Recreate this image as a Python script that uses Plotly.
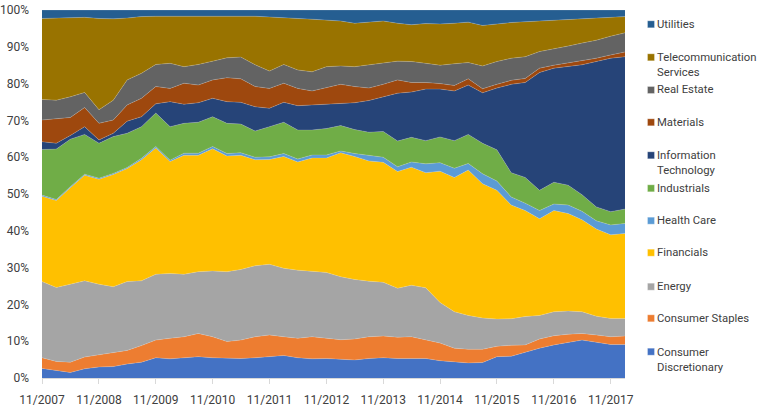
import plotly.graph_objects as go

dates = ["2007-11-01", "2008-02-01", "2008-05-01", "2008-08-01", "2008-11-01", "2009-02-01",
         "2009-05-01", "2009-08-01", "2009-11-01", "2010-02-01", "2010-05-01", "2010-08-01",
         "2010-11-01", "2011-02-01", "2011-05-01", "2011-08-01", "2011-11-01", "2012-02-01",
         "2012-05-01", "2012-08-01", "2012-11-01", "2013-02-01", "2013-05-01", "2013-08-01",
         "2013-11-01", "2014-02-01", "2014-05-01", "2014-08-01", "2014-11-01", "2015-02-01",
         "2015-05-01", "2015-08-01", "2015-11-01", "2016-02-01", "2016-05-01", "2016-08-01",
         "2016-11-01", "2017-02-01", "2017-05-01", "2017-08-01", "2017-11-01", "2018-02-01"]

consumer_disc = [2.6, 2.0, 1.5, 2.5, 3.0, 3.1, 3.8, 4.3, 5.5, 5.2, 5.5, 5.8, 5.5, 5.3, 5.3, 5.5, 5.8, 6.1, 5.5, 5.2, 5.3,
                 5.0, 4.9, 5.3, 5.5, 5.3, 5.3, 5.3, 4.7, 4.3, 4.1, 4.2, 5.8, 5.9, 7.0, 8.1, 9.0, 9.6, 10.3, 9.7, 9.1, 9.1]
consumer_staples = [2.9, 2.5, 2.8, 3.2, 3.3, 3.9, 3.7, 4.5, 4.8, 5.6, 5.7, 6.3, 5.7, 4.6, 5.0, 5.7, 5.9, 5.1, 5.3, 6.0, 5.5,
                    5.4, 5.7, 5.9, 5.9, 5.8, 5.9, 5.1, 4.8, 3.8, 3.7, 3.6, 2.8, 3.0, 2.0, 2.5, 2.5, 2.3, 1.8, 2.0, 2.1, 2.3]
energy = [20.7, 20.1, 21.2, 20.7, 19.2, 17.8, 18.7, 17.6, 17.9, 17.6, 17.0, 16.8, 17.9, 19.0, 19.2, 19.3, 19.2, 18.6, 18.5, 17.7, 17.9,
          17.1, 16.2, 15.1, 14.6, 13.3, 14.0, 14.1, 11.0, 9.9, 9.2, 8.5, 7.4, 7.2, 7.7, 6.4, 6.5, 6.3, 5.9, 5.1, 5.0, 4.8]
financials = [23.2, 23.6, 26.2, 28.7, 28.5, 30.5, 30.7, 32.9, 34.3, 30.4, 32.3, 31.6, 33.2, 31.4, 31.0, 28.8, 28.5, 30.4, 29.4, 30.9, 31.1,
              33.7, 33.4, 32.7, 32.6, 31.7, 32.1, 31.3, 35.7, 36.5, 39.5, 36.5, 35.0, 30.9, 28.8, 26.3, 27.5, 26.5, 25.0, 23.7, 22.7, 23.1]
health_care = [0.3, 0.3, 0.3, 0.3, 0.3, 0.3, 0.3, 0.4, 0.4, 0.4, 0.6, 0.6, 0.6, 0.7, 0.7, 0.7, 0.7, 0.8, 0.8, 0.8, 0.8,
               0.5, 0.8, 1.4, 1.4, 1.3, 1.4, 2.4, 2.3, 2.5, 1.8, 2.7, 2.5, 2.2, 2.0, 2.2, 1.8, 2.3, 2.3, 2.2, 2.7, 2.7]
industrials = [12.4, 13.7, 12.9, 10.8, 9.5, 10.0, 9.3, 8.6, 9.1, 9.1, 8.1, 8.4, 8.1, 8.2, 7.8, 7.1, 8.2, 8.5, 7.9, 6.8, 7.2,
               6.9, 6.5, 6.4, 7.0, 7.0, 6.7, 6.3, 7.0, 7.5, 7.9, 8.3, 8.5, 6.6, 7.0, 5.5, 5.9, 5.4, 4.5, 3.8, 3.6, 3.9]
info_tech = [2.1, 1.6, 1.0, 2.1, 0.9, 0.9, 3.3, 2.7, 2.5, 6.8, 5.2, 5.3, 5.0, 5.9, 5.9, 6.6, 5.0, 5.4, 6.6, 6.8, 6.8,
             6.0, 7.3, 8.6, 9.3, 13.0, 12.3, 14.0, 13.0, 13.5, 13.4, 13.7, 16.8, 24.0, 25.8, 32.0, 31.0, 32.3, 35.3, 39.5, 41.7, 41.4]
materials = [5.9, 6.6, 4.9, 5.2, 4.5, 3.6, 4.4, 5.0, 4.7, 3.6, 5.7, 4.8, 5.0, 6.5, 6.4, 5.5, 5.4, 5.2, 4.7, 3.8, 4.3,
             5.2, 4.4, 3.4, 3.5, 3.6, 2.6, 1.8, 1.5, 1.5, 1.7, 1.1, 1.0, 1.1, 1.1, 1.2, 0.8, 0.9, 1.0, 0.9, 0.9, 1.3]
real_estate = [5.6, 5.1, 5.6, 4.1, 3.7, 5.4, 6.8, 6.8, 6.0, 6.8, 4.5, 5.6, 5.1, 5.4, 5.9, 5.9, 4.7, 5.1, 5.0, 5.2, 5.7,
               5.0, 5.4, 6.2, 5.8, 5.1, 5.7, 5.2, 5.0, 5.9, 4.4, 6.2, 6.2, 6.0, 5.9, 4.5, 4.4, 4.6, 4.9, 4.9, 5.1, 5.2]
telecom = [22.0, 22.3, 21.5, 20.4, 24.8, 22.1, 16.8, 15.4, 13.1, 12.8, 13.7, 13.1, 12.2, 11.4, 11.2, 13.2, 14.7, 12.8, 14.0, 14.3, 12.7,
           12.2, 11.8, 11.7, 11.4, 10.3, 10.0, 10.8, 11.2, 11.0, 11.0, 11.0, 10.3, 9.7, 9.5, 8.3, 7.8, 7.2, 6.6, 6.0, 5.1, 4.4]
utilities = [2.3, 2.2, 2.1, 2.0, 2.3, 2.4, 2.2, 1.8, 1.7, 1.7, 1.7, 1.7, 1.7, 1.6, 1.6, 1.7, 1.9, 2.0, 2.3, 2.5, 2.7,
             3.0, 3.6, 3.3, 3.0, 3.6, 4.0, 3.7, 3.8, 3.6, 3.3, 4.2, 3.7, 3.4, 3.2, 3.0, 2.8, 2.6, 2.4, 2.2, 2.0, 1.8]

series_names = ["Consumer Discretionary", "Consumer Staples", "Energy", "Financials", "Health Care",
                "Industrials", "Information Technology", "Materials", "Real Estate",
                "Telecommunication Services", "Utilities"]
legend_labels = ["Consumer<br>Discretionary", "Consumer Staples", "Energy", "Financials", "Health Care",
                 "Industrials", "Information<br>Technology", "Materials", "Real Estate",
                 "Telecommunication<br>Services", "Utilities"]
series_values = [consumer_disc, consumer_staples, energy, financials, health_care, industrials,
                 info_tech, materials, real_estate, telecom, utilities]
colors = ["#4472C4", "#ED7D31", "#A5A5A5", "#FFC000", "#5B9BD5", "#70AD47",
          "#264478", "#9E480E", "#636363", "#997300", "#255E91"]

tick_vals = ["2007-11-01", "2008-11-01", "2009-11-01", "2010-11-01", "2011-11-01", "2012-11-01",
             "2013-11-01", "2014-11-01", "2015-11-01", "2016-11-01", "2017-11-01"]
tick_text = ["11/2007", "11/2008", "11/2009", "11/2010", "11/2011", "11/2012",
             "11/2013", "11/2014", "11/2015", "11/2016", "11/2017"]

FONT = "Liberation Sans Narrow, Arial Narrow, Roboto, sans-serif"
TXT = "#404040"
FS = 12
LFS = 11.3

fig = go.Figure()
for name, vals, col in zip(series_names, series_values, colors):
    fig.add_trace(go.Scatter(
        x=dates, y=vals, name=name, mode="lines", stackgroup="one", groupnorm="percent",
        line=dict(width=0.6, color="rgba(225,225,225,0.35)"), fillcolor=col,
        showlegend=False,
    ))

# Manual legend (right side), top to bottom: Utilities ... Consumer Discretionary
W, H = 760, 407
L, R, T, B = 42, 135, 10, 29
pw, ph = W - L - R, H - T - B
legend_centers = [351.7, 318.3, 286.7, 252.7, 220.7, 188.3, 155.3, 122.3, 90.0, 57.3, 24.3]
shapes = []
annotations = []
for lab, col, cy in zip(legend_labels, colors, legend_centers):
    two = "<br>" in lab
    ymid = cy + (8.0 if two else 0)
    yp = (H - B - ymid) / ph
    yq = (H - B - cy) / ph
    shapes.append(dict(type="rect", xref="paper", yref="paper", xsizemode="pixel", ysizemode="pixel",
                       xanchor=(651.0 - L) / pw, yanchor=yq, x0=-3.5, x1=3.5, y0=-3.5, y1=3.5,
                       fillcolor=col, line=dict(width=0.5, color="rgba(255,255,255,0.6)")))
    annotations.append(dict(text=lab, xref="paper", yref="paper", x=(655 - L) / pw, y=yp,
                            xanchor="left", yanchor="middle", align="left", showarrow=False,
                            font=dict(family=FONT, size=LFS, color=TXT)))

fig.update_layout(
    width=W, height=H, margin=dict(l=L, r=R, t=T, b=B, autoexpand=False),
    paper_bgcolor="white", plot_bgcolor="white",
    font=dict(family=FONT, size=FS, color=TXT),
    shapes=shapes, annotations=annotations, showlegend=False,
    xaxis=dict(type="date", range=["2007-11-01", "2018-02-01"], tickvals=tick_vals, ticktext=tick_text,
               showgrid=False, zeroline=False, showline=True, linecolor="#D9D9D9", linewidth=1,
               ticks="outside", ticklen=5, tickcolor="#D9D9D9", tickfont=dict(family=FONT, size=FS, color=TXT),
               automargin=False, ticklabelstandoff=6),
    yaxis=dict(range=[0, 100], dtick=10, ticksuffix="%", showgrid=False, zeroline=False,
               showline=False, ticks="", tickfont=dict(family=FONT, size=FS, color=TXT),
               automargin=False, ticklabelstandoff=12),
)

fig.write_html("out.html")
